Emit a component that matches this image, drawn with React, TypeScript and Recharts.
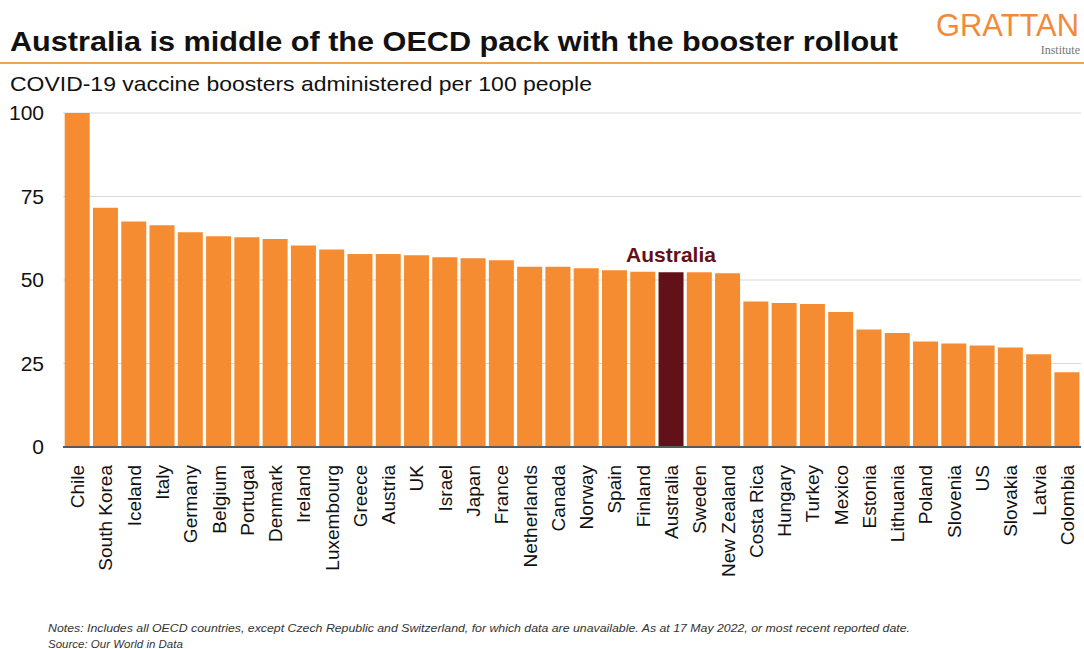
import { BarChart, Bar, XAxis, YAxis, CartesianGrid, Cell, LabelList } from 'recharts';

// Boosters per 100 people (17 May 2022)
const countries = [
  'Chile', 'South Korea', 'Iceland', 'Italy', 'Germany', 'Belgium', 'Portugal', 'Denmark',
  'Ireland', 'Luxembourg', 'Greece', 'Austria', 'UK', 'Israel', 'Japan', 'France',
  'Netherlands', 'Canada', 'Norway', 'Spain', 'Finland', 'Australia', 'Sweden', 'New Zealand',
  'Costa Rica', 'Hungary', 'Turkey', 'Mexico', 'Estonia', 'Lithuania', 'Poland', 'Slovenia',
  'US', 'Slovakia', 'Latvia', 'Colombia',
];
const boosters = [
  100, 71.6, 67.5, 66.4, 64.3, 63.1, 62.8, 62.3,
  60.3, 59.1, 57.8, 57.8, 57.4, 56.8, 56.5, 55.9,
  54.0, 54.0, 53.5, 52.9, 52.5, 52.3, 52.3, 52.0,
  43.6, 43.1, 42.8, 40.4, 35.2, 34.1, 31.6, 31.0,
  30.4, 29.8, 27.8, 22.4,
];
const yTicks = [0, 25, 50, 75, 100];
const highlight = 'Australia';

const ORANGE = '#F58C32';
const MAROON = '#621119';
const FONT = '"Liberation Sans", Arial, sans-serif';

const data = countries.map((c, i) => ({ country: c, value: boosters[i] }));

function CountryTick({ x, y, payload }: any) {
  return (
    <text
      transform={`translate(${x + 7}, ${y + 10}) rotate(-90)`}
      textAnchor="end"
      fontSize={19}
      fontFamily={FONT}
      fill="#111"
    >
      {payload.value}
    </text>
  );
}

function AustraliaLabel({ x, y, width, index }: any) {
  if (countries[index] !== highlight) return null;
  return (
    <text x={x + width / 2} y={y - 10} textAnchor="middle" fontSize={21} fontWeight={700}
      fontFamily={FONT} fill={MAROON}>
      {highlight}
    </text>
  );
}

export default function App() {
  return (
    <div style={{ position: 'absolute', left: 0, top: 0, width: 1084, height: 649, background: '#fff', fontFamily: FONT }}>
      <svg width={1084} height={649} style={{ position: 'absolute', left: 0, top: 0 }}>
        <text x={10} y={51} fontSize={28} fontWeight={700} fontFamily={FONT} fill="#111"
          textLength={888} lengthAdjust="spacingAndGlyphs">
          Australia is middle of the OECD pack with the booster rollout
        </text>
        <rect x={0} y={62} width={1084} height={2} fill="#E9A84A" />
        <text x={936} y={36} fontSize={32} fontFamily={FONT} fill="#F28A3A"
          textLength={143} lengthAdjust="spacingAndGlyphs">
          GRATTAN
        </text>
        <text x={1080} y={54} fontSize={12} textAnchor="end" fontFamily='"Liberation Serif", serif' fill="#777">
          Institute
        </text>
        <text x={10} y={91} fontSize={21} fontFamily={FONT} fill="#111"
          textLength={582} lengthAdjust="spacingAndGlyphs">
          COVID-19 vaccine boosters administered per 100 people
        </text>
        <text x={48} y={632} fontSize={11.5} fontStyle="italic" fontFamily={FONT} fill="#333"
          textLength={862} lengthAdjust="spacingAndGlyphs">
          Notes: Includes all OECD countries, except Czech Republic and Switzerland, for which data are unavailable. As at 17 May 2022, or most recent reported date.
        </text>
        <text x={48} y={648} fontSize={11.5} fontStyle="italic" fontFamily={FONT} fill="#333">
          Source: Our World in Data
        </text>
      </svg>
      <div style={{ position: 'absolute', left: 0, top: 0 }}>
        <BarChart width={1084} height={649} data={data}
          margin={{ top: 113, right: 3, left: 0, bottom: 82 }} barCategoryGap={1.7}>
          <CartesianGrid vertical={false} stroke="#d9d9d9" />
          <XAxis dataKey="country" interval={0} height={120} tick={<CountryTick />}
            tickLine={false} axisLine={{ stroke: '#595959', strokeWidth: 2 }} />
          <YAxis domain={[0, 100]} ticks={yTicks} width={63} tickLine={false} axisLine={false}
            tickSize={0} tickMargin={19}
            tick={{ fontSize: 21, fill: '#111', fontFamily: FONT }} />
          <Bar dataKey="value" isAnimationActive={false}>
            {data.map(d => (
              <Cell key={d.country} fill={d.country === highlight ? MAROON : ORANGE} />
            ))}
            <LabelList dataKey="value" content={<AustraliaLabel />} />
          </Bar>
        </BarChart>
      </div>
    </div>
  );
}
